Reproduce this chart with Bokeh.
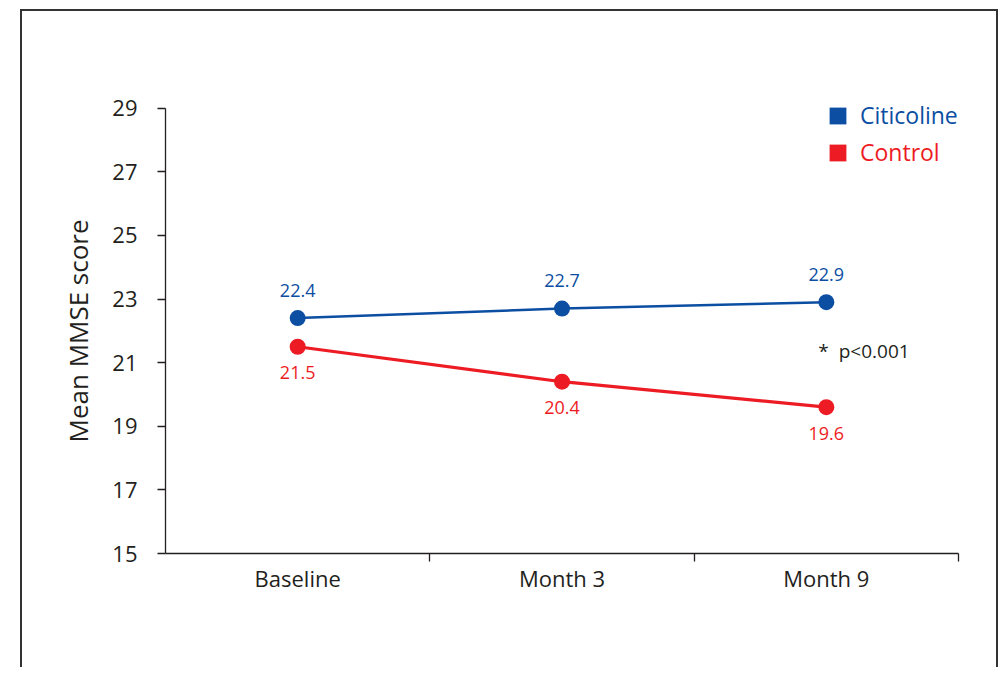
from bokeh.plotting import figure
from bokeh.models import (ColumnDataSource, FixedTicker, Legend, LegendItem,
                          Label, Range1d, Title)
from bokeh.core.properties import value
from bokeh.embed import file_html
from bokeh.resources import INLINE

# ---- data ----
categories = ["Baseline", "Month 3", "Month 9"]
citicoline = [22.4, 22.7, 22.9]
control = [21.5, 20.4, 19.6]
y_ticks = [15, 17, 19, 21, 23, 25, 27, 29]
series_names = ["Citicoline", "Control"]
y_title = "Mean MMSE score"
note = "*\u00a0\u00a0p<0.001"
note_y = 21.35

# ---- style ----
BLUE = "#0b4ea2"
RED = "#ed1c24"
INK = "#231f20"
FONT = "Open Sans"

xpos = [i + 0.5 for i in range(len(categories))]
bounds = [i + 1.0 for i in range(len(categories))]

p = figure(width=978, height=658,
           x_range=Range1d(0, len(categories)),
           y_range=Range1d(y_ticks[0], y_ticks[-1] + 2),
           output_backend="svg", toolbar_location=None,
           min_border_left=143, min_border_right=42,
           min_border_top=33, min_border_bottom=116,
           styles={"margin-left": "20px", "margin-top": "9px",
                   "border-top": "2px solid #333", "border-left": "2px solid #333",
                   "border-right": "2px solid #333"})
p.xgrid.visible = False
p.ygrid.visible = False
p.outline_line_color = None
p.background_fill_color = "white"
p.border_fill_color = "white"

# x axis: labels at category centres, ticks at boundaries
xa = p.xaxis[0]
xa.ticker = FixedTicker(ticks=xpos, minor_ticks=bounds)
xa.major_label_overrides = {x: c for x, c in zip(xpos, categories)}
xa.major_tick_out = 0
xa.major_tick_in = 0
xa.minor_tick_out = 8
xa.minor_tick_in = 0
xa.minor_tick_line_color = INK
xa.minor_tick_line_width = 1.3
xa.axis_line_color = INK
xa.axis_line_width = 1.3
xa.major_label_text_font = FONT
xa.major_label_text_font_size = "22px"
xa.major_label_text_color = INK
xa.major_label_standoff = 1

# y axis
ya = p.yaxis[0]
ya.ticker = FixedTicker(ticks=y_ticks)
ya.bounds = (y_ticks[0], y_ticks[-1])
ya.major_tick_out = 8
ya.major_tick_in = 0
ya.minor_tick_line_color = None
ya.major_tick_line_color = INK
ya.major_tick_line_width = 1.3
ya.axis_line_color = INK
ya.axis_line_width = 1.3
ya.major_label_text_font = FONT
ya.major_label_text_font_size = "22px"
ya.major_label_text_color = INK
ya.major_label_standoff = 20

# y-axis title, placed along the axis (not centred on the taller frame)
p.add_layout(Title(text=y_title, align="left", offset=111, standoff=27,
                   text_font=FONT, text_font_size="26px", text_font_style="normal",
                   text_color=INK), "left")

# series
for vals, col, lw, off in [(citicoline, BLUE, 2.5, -28), (control, RED, 3.2, 26)]:
    src = ColumnDataSource(dict(x=xpos, y=vals, label=[f"{v:.1f}" for v in vals]))
    p.line("x", "y", source=src, line_color=col, line_width=lw)
    p.scatter("x", "y", source=src, size=16, fill_color=col, line_color=None)
    p.text("x", "y", text="label", source=src, text_font=value(FONT),
           text_font_size="18px", text_color=col, text_align="center",
           text_baseline="middle", y_offset=off)

# legends (one per series so each label takes its series colour)
for name, vals, col, loc in [(series_names[0], citicoline, BLUE, (662, 422)),
                             (series_names[1], control, RED, (662, 385))]:
    r = p.quad(left=[xpos[0]], right=[xpos[0]], top=[vals[0]], bottom=[vals[0]],
               fill_color=col, line_color=None, visible=False)
    leg = Legend(items=[LegendItem(label=name, renderers=[r])], location=loc,
                 border_line_color=None, background_fill_alpha=0,
                 inactive_fill_alpha=0,
                 padding=0, margin=0, spacing=0,
                 glyph_width=21, glyph_height=21, label_standoff=12,
                 label_text_font=FONT, label_text_font_size="23px",
                 label_text_color=col, label_text_baseline="middle")
    p.add_layout(leg)

p.add_layout(Label(x=xpos[-1], y=note_y, x_offset=-8, text=note,
                   text_font=FONT, text_font_size="19px", text_color=INK,
                   text_align="left", text_baseline="middle"))

open("out.html", "w").write(file_html(p, INLINE))
